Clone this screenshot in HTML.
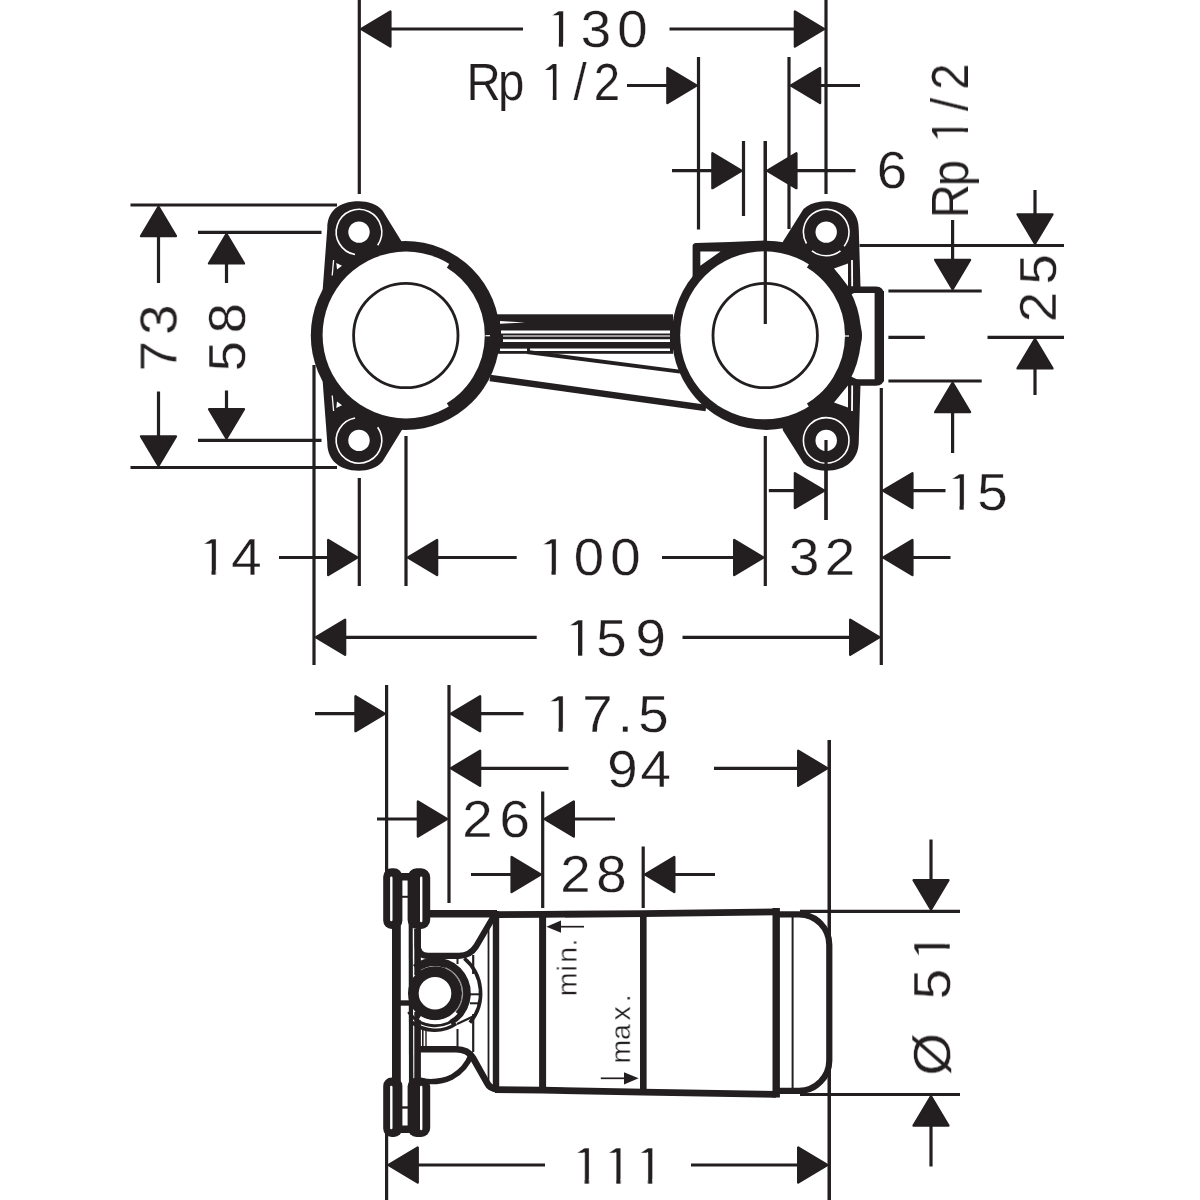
<!DOCTYPE html>
<html lang="en">
<head>
<meta charset="utf-8">
<title>Technical drawing</title>
<style>
html,body{margin:0;padding:0;background:#fff;}
body{width:1200px;height:1200px;overflow:hidden;}
svg{display:block;}
text{will-change:opacity;font-family:"Liberation Sans",sans-serif;fill:#231f20;font-kerning:none;}
</style>
</head>
<body>
<svg width="1200" height="1200" viewBox="0 0 1200 1200">
<rect width="1200" height="1200" fill="#fff"/>
<g id="dims-top">
<line x1="359.3" y1="0" x2="359.3" y2="194" stroke="#231f20" stroke-width="3.2" stroke-linecap="butt"/>
<line x1="826" y1="0" x2="826" y2="194" stroke="#231f20" stroke-width="3.2" stroke-linecap="butt"/>
<line x1="698.5" y1="57" x2="698.5" y2="229.5" stroke="#231f20" stroke-width="3.2" stroke-linecap="butt"/>
<line x1="789" y1="57" x2="789" y2="229" stroke="#231f20" stroke-width="3.2" stroke-linecap="butt"/>
<line x1="743.5" y1="141" x2="743.5" y2="216" stroke="#231f20" stroke-width="3.2" stroke-linecap="butt"/>
<line x1="765.3" y1="141" x2="765.3" y2="324" stroke="#231f20" stroke-width="3.2" stroke-linecap="butt"/>
<line x1="314" y1="365" x2="314" y2="665" stroke="#231f20" stroke-width="3.2" stroke-linecap="butt"/>
<line x1="359.3" y1="478" x2="359.3" y2="586" stroke="#231f20" stroke-width="3.2" stroke-linecap="butt"/>
<line x1="406" y1="436" x2="406" y2="586" stroke="#231f20" stroke-width="3.2" stroke-linecap="butt"/>
<line x1="765.3" y1="436" x2="765.3" y2="586" stroke="#231f20" stroke-width="3.2" stroke-linecap="butt"/>
<line x1="826" y1="440" x2="826" y2="520" stroke="#231f20" stroke-width="3.2" stroke-linecap="butt"/>
<line x1="881.3" y1="388" x2="881.3" y2="665" stroke="#231f20" stroke-width="3.2" stroke-linecap="butt"/>
<polygon points="361.22,29.00 390.40,11.56 390.40,46.44" fill="#231f20" stroke="#231f20" stroke-width="2.4" stroke-linejoin="round"/>
<line x1="390" y1="29" x2="523" y2="29" stroke="#231f20" stroke-width="3.2" stroke-linecap="butt"/>
<polygon points="824.08,29.00 794.90,11.56 794.90,46.44" fill="#231f20" stroke="#231f20" stroke-width="2.4" stroke-linejoin="round"/>
<line x1="669.5" y1="29" x2="795" y2="29" stroke="#231f20" stroke-width="3.2" stroke-linecap="butt"/>
<g transform="scale(1.05,1)">
<text x="518.80 553.08 587.95" y="46.5" font-size="52" stroke="#fff" stroke-width="0.3">130</text>
<path d="M521.40,47.5 H532.18 V15.30 H521.40 Z M536.23,47.5 H546.36 V41.82 H536.23 Z" fill="#fff"/>
</g>
<g transform="scale(0.93,1)">
<text x="501.72 535.48 563.84 581.26 616.64 638.54" y="100.5" font-size="51" stroke="#fff" stroke-width="0.2">Rp 1/2</text>
<path d="M583.81,101.5 H594.34 V69.90 H583.81 Z M598.40,101.5 H608.29 V95.91 H598.40 Z" fill="#fff"/>
</g>
<line x1="627" y1="85.5" x2="667" y2="85.5" stroke="#231f20" stroke-width="3.2" stroke-linecap="butt"/>
<polygon points="696.58,85.50 667.40,68.06 667.40,102.94" fill="#231f20" stroke="#231f20" stroke-width="2.4" stroke-linejoin="round"/>
<polygon points="790.92,85.50 820.10,68.06 820.10,102.94" fill="#231f20" stroke="#231f20" stroke-width="2.4" stroke-linejoin="round"/>
<line x1="820" y1="85.5" x2="860" y2="85.5" stroke="#231f20" stroke-width="3.2" stroke-linecap="butt"/>
<line x1="672" y1="170.7" x2="713" y2="170.7" stroke="#231f20" stroke-width="3.2" stroke-linecap="butt"/>
<polygon points="741.58,170.70 712.40,153.26 712.40,188.14" fill="#231f20" stroke="#231f20" stroke-width="2.4" stroke-linejoin="round"/>
<polygon points="767.22,170.70 796.40,153.26 796.40,188.14" fill="#231f20" stroke="#231f20" stroke-width="2.4" stroke-linejoin="round"/>
<line x1="796" y1="170.7" x2="855.5" y2="170.7" stroke="#231f20" stroke-width="3.2" stroke-linecap="butt"/>
<g transform="scale(1.05,1)">
<text x="834.96" y="188" font-size="52" stroke="#fff" stroke-width="0.3">6</text>
</g>
<g transform="translate(968,0) rotate(-90) scale(0.93,1)">
<text x="-234.63 -200.27 -171.91 -154.97 -119.38 -96.63" y="0" font-size="51" stroke="#fff" stroke-width="0.2">Rp 1/2</text>
<path d="M-152.42,1 H-141.90 V-30.60 H-152.42 Z M-137.83,1 H-127.94 V-4.59 H-137.83 Z" fill="#fff"/>
</g>
<line x1="859.5" y1="245.5" x2="1064" y2="245.5" stroke="#231f20" stroke-width="3.2" stroke-linecap="butt"/>
<line x1="888.4" y1="291" x2="981.7" y2="291" stroke="#231f20" stroke-width="3.2" stroke-linecap="butt"/>
<line x1="888.4" y1="337.3" x2="924.8" y2="337.3" stroke="#231f20" stroke-width="3.2" stroke-linecap="butt"/>
<line x1="987.5" y1="337.3" x2="1064" y2="337.3" stroke="#231f20" stroke-width="3.2" stroke-linecap="butt"/>
<line x1="888.4" y1="381" x2="981.7" y2="381" stroke="#231f20" stroke-width="3.2" stroke-linecap="butt"/>
<line x1="952.6" y1="220" x2="952.6" y2="261" stroke="#231f20" stroke-width="3.2" stroke-linecap="butt"/>
<polygon points="952.60,289.08 935.16,259.90 970.04,259.90" fill="#231f20" stroke="#231f20" stroke-width="2.4" stroke-linejoin="round"/>
<polygon points="952.60,382.92 935.16,412.10 970.04,412.10" fill="#231f20" stroke="#231f20" stroke-width="2.4" stroke-linejoin="round"/>
<line x1="952.6" y1="412" x2="952.6" y2="453" stroke="#231f20" stroke-width="3.2" stroke-linecap="butt"/>
<line x1="1035" y1="190" x2="1035" y2="215" stroke="#231f20" stroke-width="3.2" stroke-linecap="butt"/>
<polygon points="1035.00,243.58 1017.56,214.40 1052.44,214.40" fill="#231f20" stroke="#231f20" stroke-width="2.4" stroke-linejoin="round"/>
<polygon points="1035.00,339.22 1017.56,368.40 1052.44,368.40" fill="#231f20" stroke="#231f20" stroke-width="2.4" stroke-linejoin="round"/>
<line x1="1035" y1="368" x2="1035" y2="395" stroke="#231f20" stroke-width="3.2" stroke-linecap="butt"/>
<g transform="translate(1056,0) rotate(-90) scale(1.05,1)">
<text x="-306.81 -270.91" y="0" font-size="52" stroke="#fff" stroke-width="0.3">25</text>
</g>
<polygon points="883.22,490.60 912.40,473.16 912.40,508.04" fill="#231f20" stroke="#231f20" stroke-width="2.4" stroke-linejoin="round"/>
<line x1="912" y1="490.6" x2="945.5" y2="490.6" stroke="#231f20" stroke-width="3.2" stroke-linecap="butt"/>
<g transform="scale(1.05,1)">
<text x="900.42 930.81" y="510" font-size="52" stroke="#fff" stroke-width="0.3">15</text>
<path d="M903.02,511 H913.80 V478.80 H903.02 Z M917.85,511 H927.98 V505.32 H917.85 Z" fill="#fff"/>
</g>
<line x1="768.8" y1="490.6" x2="795" y2="490.6" stroke="#231f20" stroke-width="3.2" stroke-linecap="butt"/>
<polygon points="824.08,490.60 794.90,473.16 794.90,508.04" fill="#231f20" stroke="#231f20" stroke-width="2.4" stroke-linejoin="round"/>
<polygon points="883.22,557.50 912.40,540.06 912.40,574.94" fill="#231f20" stroke="#231f20" stroke-width="2.4" stroke-linejoin="round"/>
<line x1="912" y1="557.5" x2="950.5" y2="557.5" stroke="#231f20" stroke-width="3.2" stroke-linecap="butt"/>
<g transform="scale(1.05,1)">
<text x="751.41 785.57" y="575.5" font-size="52" stroke="#fff" stroke-width="0.3">32</text>
</g>
<line x1="662" y1="557.5" x2="734" y2="557.5" stroke="#231f20" stroke-width="3.2" stroke-linecap="butt"/>
<polygon points="763.38,557.50 734.20,540.06 734.20,574.94" fill="#231f20" stroke="#231f20" stroke-width="2.4" stroke-linejoin="round"/>
<polygon points="407.92,557.50 437.10,540.06 437.10,574.94" fill="#231f20" stroke="#231f20" stroke-width="2.4" stroke-linejoin="round"/>
<line x1="437" y1="557.5" x2="516.7" y2="557.5" stroke="#231f20" stroke-width="3.2" stroke-linecap="butt"/>
<g transform="scale(1.05,1)">
<text x="511.84 546.38 581.19" y="575.5" font-size="52" stroke="#fff" stroke-width="0.3">100</text>
<path d="M514.44,576.5 H525.22 V544.30 H514.44 Z M529.27,576.5 H539.40 V570.82 H529.27 Z" fill="#fff"/>
</g>
<line x1="279" y1="557.5" x2="328" y2="557.5" stroke="#231f20" stroke-width="3.2" stroke-linecap="butt"/>
<polygon points="357.38,557.50 328.20,540.06 328.20,574.94" fill="#231f20" stroke="#231f20" stroke-width="2.4" stroke-linejoin="round"/>
<g transform="scale(1.05,1)">
<text x="188.03 220.22" y="575" font-size="52" stroke="#fff" stroke-width="0.3">14</text>
<path d="M190.63,576 H201.41 V543.80 H190.63 Z M205.46,576 H215.59 V570.32 H205.46 Z" fill="#fff"/>
</g>
<polygon points="315.92,637.30 345.10,619.86 345.10,654.74" fill="#231f20" stroke="#231f20" stroke-width="2.4" stroke-linejoin="round"/>
<line x1="345" y1="637.3" x2="536.7" y2="637.3" stroke="#231f20" stroke-width="3.2" stroke-linecap="butt"/>
<line x1="682.5" y1="637.3" x2="849" y2="637.3" stroke="#231f20" stroke-width="3.2" stroke-linecap="butt"/>
<polygon points="879.38,637.30 850.20,619.86 850.20,654.74" fill="#231f20" stroke="#231f20" stroke-width="2.4" stroke-linejoin="round"/>
<g transform="scale(1.05,1)">
<text x="537.08 567.95 605.33" y="656.5" font-size="52" stroke="#fff" stroke-width="0.3">159</text>
<path d="M539.68,657.5 H550.46 V625.30 H539.68 Z M554.51,657.5 H564.64 V651.82 H554.51 Z" fill="#fff"/>
</g>
<line x1="130.5" y1="205" x2="337" y2="205" stroke="#231f20" stroke-width="3.2" stroke-linecap="butt"/>
<line x1="198" y1="232.3" x2="321.5" y2="232.3" stroke="#231f20" stroke-width="3.2" stroke-linecap="butt"/>
<line x1="198" y1="440.3" x2="321.5" y2="440.3" stroke="#231f20" stroke-width="3.2" stroke-linecap="butt"/>
<line x1="130.5" y1="467.5" x2="337" y2="467.5" stroke="#231f20" stroke-width="3.2" stroke-linecap="butt"/>
<polygon points="158.50,206.92 141.06,236.10 175.94,236.10" fill="#231f20" stroke="#231f20" stroke-width="2.4" stroke-linejoin="round"/>
<line x1="158.5" y1="236" x2="158.5" y2="283" stroke="#231f20" stroke-width="3.2" stroke-linecap="butt"/>
<line x1="158.5" y1="391.5" x2="158.5" y2="436" stroke="#231f20" stroke-width="3.2" stroke-linecap="butt"/>
<polygon points="158.50,465.58 141.06,436.40 175.94,436.40" fill="#231f20" stroke="#231f20" stroke-width="2.4" stroke-linejoin="round"/>
<polygon points="226.50,234.22 209.06,263.40 243.94,263.40" fill="#231f20" stroke="#231f20" stroke-width="2.4" stroke-linejoin="round"/>
<line x1="226.5" y1="263" x2="226.5" y2="283" stroke="#231f20" stroke-width="3.2" stroke-linecap="butt"/>
<line x1="226.5" y1="390.5" x2="226.5" y2="409" stroke="#231f20" stroke-width="3.2" stroke-linecap="butt"/>
<polygon points="226.50,438.38 209.06,409.20 243.94,409.20" fill="#231f20" stroke="#231f20" stroke-width="2.4" stroke-linejoin="round"/>
<g transform="translate(176.5,0) rotate(-90) scale(1.05,1)">
<text x="-353.72 -318.97" y="0" font-size="52" stroke="#fff" stroke-width="0.3">73</text>
</g>
<g transform="translate(245,0) rotate(-90) scale(1.05,1)">
<text x="-353.62 -317.42" y="0" font-size="52" stroke="#fff" stroke-width="0.3">58</text>
</g>
</g>
<g id="dims-side">
<line x1="386.6" y1="685" x2="386.6" y2="872" stroke="#231f20" stroke-width="3.2" stroke-linecap="butt"/>
<line x1="386.6" y1="1133" x2="386.6" y2="1200" stroke="#231f20" stroke-width="3.2" stroke-linecap="butt"/>
<line x1="449" y1="685" x2="449" y2="903" stroke="#231f20" stroke-width="3.2" stroke-linecap="butt"/>
<line x1="542.7" y1="791.5" x2="542.7" y2="908" stroke="#231f20" stroke-width="3.2" stroke-linecap="butt"/>
<line x1="643.2" y1="846.5" x2="643.2" y2="908" stroke="#231f20" stroke-width="3.2" stroke-linecap="butt"/>
<line x1="829.3" y1="740" x2="829.3" y2="1200" stroke="#231f20" stroke-width="3.2" stroke-linecap="butt"/>
<line x1="315" y1="713.7" x2="355" y2="713.7" stroke="#231f20" stroke-width="3.2" stroke-linecap="butt"/>
<polygon points="384.68,713.70 355.50,696.26 355.50,731.14" fill="#231f20" stroke="#231f20" stroke-width="2.4" stroke-linejoin="round"/>
<polygon points="450.92,713.70 480.10,696.26 480.10,731.14" fill="#231f20" stroke="#231f20" stroke-width="2.4" stroke-linejoin="round"/>
<line x1="480" y1="713.7" x2="523.5" y2="713.7" stroke="#231f20" stroke-width="3.2" stroke-linecap="butt"/>
<g transform="scale(1.05,1)">
<text x="518.51 554.47 588.42 607.81" y="732.5" font-size="52" stroke="#fff" stroke-width="0.3">17.5</text>
<path d="M521.11,733.5 H531.89 V701.30 H521.11 Z M535.94,733.5 H546.07 V727.82 H535.94 Z" fill="#fff"/>
</g>
<polygon points="450.92,768.30 480.10,750.86 480.10,785.74" fill="#231f20" stroke="#231f20" stroke-width="2.4" stroke-linejoin="round"/>
<line x1="480" y1="768.3" x2="568.5" y2="768.3" stroke="#231f20" stroke-width="3.2" stroke-linecap="butt"/>
<line x1="714" y1="768.3" x2="798.5" y2="768.3" stroke="#231f20" stroke-width="3.2" stroke-linecap="butt"/>
<polygon points="827.38,768.30 798.20,750.86 798.20,785.74" fill="#231f20" stroke="#231f20" stroke-width="2.4" stroke-linejoin="round"/>
<g transform="scale(1.05,1)">
<text x="578.28 609.99" y="787.5" font-size="52" stroke="#fff" stroke-width="0.3">94</text>
</g>
<line x1="377" y1="819" x2="418" y2="819" stroke="#231f20" stroke-width="3.2" stroke-linecap="butt"/>
<polygon points="447.08,819.00 417.90,801.56 417.90,836.44" fill="#231f20" stroke="#231f20" stroke-width="2.4" stroke-linejoin="round"/>
<polygon points="544.62,819.00 573.80,801.56 573.80,836.44" fill="#231f20" stroke="#231f20" stroke-width="2.4" stroke-linejoin="round"/>
<line x1="574" y1="819" x2="615" y2="819" stroke="#231f20" stroke-width="3.2" stroke-linecap="butt"/>
<g transform="scale(1.05,1)">
<text x="440.33 475.77" y="837.5" font-size="52" stroke="#fff" stroke-width="0.3">26</text>
</g>
<line x1="471" y1="874.5" x2="511" y2="874.5" stroke="#231f20" stroke-width="3.2" stroke-linecap="butt"/>
<polygon points="540.78,874.50 511.60,857.06 511.60,891.94" fill="#231f20" stroke="#231f20" stroke-width="2.4" stroke-linejoin="round"/>
<polygon points="645.12,874.50 674.30,857.06 674.30,891.94" fill="#231f20" stroke="#231f20" stroke-width="2.4" stroke-linejoin="round"/>
<line x1="675" y1="874.5" x2="715" y2="874.5" stroke="#231f20" stroke-width="3.2" stroke-linecap="butt"/>
<g transform="scale(1.05,1)">
<text x="533.67 567.82" y="892.5" font-size="52" stroke="#fff" stroke-width="0.3">28</text>
</g>
<polygon points="388.52,1165.00 417.70,1147.56 417.70,1182.44" fill="#231f20" stroke="#231f20" stroke-width="2.4" stroke-linejoin="round"/>
<line x1="418" y1="1165" x2="545" y2="1165" stroke="#231f20" stroke-width="3.2" stroke-linecap="butt"/>
<line x1="691" y1="1165" x2="798.5" y2="1165" stroke="#231f20" stroke-width="3.2" stroke-linecap="butt"/>
<polygon points="827.38,1165.00 798.20,1147.56 798.20,1182.44" fill="#231f20" stroke="#231f20" stroke-width="2.4" stroke-linejoin="round"/>
<g transform="scale(1.05,1)">
<text x="543.46 573.56 603.75" y="1184" font-size="52" stroke="#fff" stroke-width="0.3">111</text>
<path d="M546.06,1185 H556.84 V1152.80 H546.06 Z M560.89,1185 H571.02 V1179.32 H560.89 Z" fill="#fff"/>
<path d="M576.16,1185 H586.94 V1152.80 H576.16 Z M590.99,1185 H601.12 V1179.32 H590.99 Z" fill="#fff"/>
<path d="M606.35,1185 H617.13 V1152.80 H606.35 Z M621.18,1185 H631.31 V1179.32 H621.18 Z" fill="#fff"/>
</g>
<line x1="800" y1="911.3" x2="960" y2="911.3" stroke="#231f20" stroke-width="3.2" stroke-linecap="butt"/>
<line x1="800" y1="1094.5" x2="960" y2="1094.5" stroke="#231f20" stroke-width="3.2" stroke-linecap="butt"/>
<line x1="931" y1="839.5" x2="931" y2="880" stroke="#231f20" stroke-width="3.2" stroke-linecap="butt"/>
<polygon points="931.00,909.38 913.56,880.20 948.44,880.20" fill="#231f20" stroke="#231f20" stroke-width="2.4" stroke-linejoin="round"/>
<polygon points="931.00,1096.42 913.56,1125.60 948.44,1125.60" fill="#231f20" stroke="#231f20" stroke-width="2.4" stroke-linejoin="round"/>
<line x1="931" y1="1126" x2="931" y2="1166.5" stroke="#231f20" stroke-width="3.2" stroke-linecap="butt"/>
<g transform="translate(950,0) rotate(-90) scale(1.05,1)">
<text x="-1024.38 -983.93 -951.57 -916.73" y="0" font-size="52" stroke="#fff" stroke-width="0.3">Ø 51</text>
<path d="M-914.13,1 H-903.35 V-31.20 H-914.13 Z M-899.30,1 H-889.17 V-4.68 H-899.30 Z" fill="#fff"/>
</g>
</g>
<g id="part-top">
<rect x="497" y="314.3" width="176" height="39.5" fill="#231f20"/>
<line x1="501" y1="332" x2="670" y2="332" stroke="#fff" stroke-width="2.8" stroke-linecap="butt"/>
<line x1="503" y1="336" x2="670" y2="336" stroke="#c8c6c6" stroke-width="1.6" stroke-linecap="butt"/>
<line x1="503" y1="340.6" x2="670" y2="340.6" stroke="#fff" stroke-width="2.8" stroke-linecap="butt"/>
<line x1="500" y1="349.8" x2="527" y2="349.8" stroke="#fff" stroke-width="2.4" stroke-linecap="butt"/>
<line x1="530" y1="349.8" x2="670" y2="349.8" stroke="#fff" stroke-width="2.4" stroke-linecap="butt"/>
<path d="M500,321 L525,322.6 L500,323.8 Z" fill="#fff" stroke="none" stroke-width="0" stroke-linejoin="round" stroke-linecap="round"/>
<line x1="527" y1="352" x2="680" y2="371.6" stroke="#231f20" stroke-width="3.8" stroke-linecap="butt"/>
<line x1="490" y1="378" x2="706" y2="408" stroke="#231f20" stroke-width="6.4" stroke-linecap="butt"/>
<path d="M322.5,292 L327.3,228 C327.3,212 338,201.3 359,201.3 C368,201.3 377,204 382.5,210.5 L402.5,243 L405,335 Z" fill="#231f20" stroke="none" stroke-width="0" stroke-linejoin="round" stroke-linecap="round"/>
<path d="M322.5,379 L327.3,443 C327.3,459 338,470.7 359,470.7 C368,470.7 377,468 382.5,461.5 L402.5,429 L405,336 Z" fill="#231f20" stroke="none" stroke-width="0" stroke-linejoin="round" stroke-linecap="round"/>
<circle cx="405.3" cy="335.5" r="94.5" fill="#231f20" stroke="none" stroke-width="0"/>
<circle cx="406" cy="335.0" r="83.4" fill="#fff" stroke="none" stroke-width="0"/>
<path d="M449.45,263.45 A84.5,84.5 0 0 1 449.45,407.55" fill="none" stroke="#231f20" stroke-width="10" stroke-linecap="butt"/>
<line x1="485.5" y1="335.7" x2="490" y2="335.7" stroke="#fff" stroke-width="1.2" stroke-linecap="butt"/>
<circle cx="405.8" cy="335.5" r="52.2" fill="none" stroke="#231f20" stroke-width="2.8"/>
<circle cx="359" cy="232.1" r="10.7" fill="#fff" stroke="none" stroke-width="0"/>
<path d="M355.04,254.55 A22.8,22.8 0 1 1 377.68,245.18" fill="none" stroke="#fff" stroke-width="1.6" stroke-linecap="butt"/>
<circle cx="359" cy="440.4" r="10.7" fill="#fff" stroke="none" stroke-width="0"/>
<path d="M377.68,427.32 A22.8,22.8 0 1 1 355.04,417.95" fill="none" stroke="#fff" stroke-width="1.6" stroke-linecap="butt"/>
<path d="M336.3,263 L342,265.8 L337,269.5 Z" fill="#fff" stroke="none" stroke-width="0" stroke-linejoin="round" stroke-linecap="round"/>
<line x1="333.6" y1="260" x2="332.2" y2="275.5" stroke="#fff" stroke-width="1.3" stroke-linecap="butt"/>
<path d="M336.3,408 L342,405.2 L337,401.5 Z" fill="#fff" stroke="none" stroke-width="0" stroke-linejoin="round" stroke-linecap="round"/>
<line x1="333.6" y1="411" x2="332.2" y2="395.5" stroke="#fff" stroke-width="1.3" stroke-linecap="butt"/>
<path d="M692.6,246 Q692.6,243.4 696,243 L730,242 L765,240.6 L765,262 L700,290 L692.6,290 Z" fill="#231f20" stroke="none" stroke-width="0" stroke-linejoin="round" stroke-linecap="round"/>
<path d="M848,289.7 L876,289.7 Q880.5,289.7 880.5,294 L880.5,378.2 Q880.5,382.5 876,382.5 L848,382.5" fill="none" stroke="#231f20" stroke-width="6.4" stroke-linejoin="round" stroke-linecap="butt"/>
<line x1="879.3" y1="291" x2="879.3" y2="381.5" stroke="#231f20" stroke-width="9.4" stroke-linecap="butt"/>
<path d="M860.6,290 L858.8,230 C858.8,212 847,201.3 826,201.3 C817,201.3 808.5,204 803.5,209 L783,241.5 L765,335 Z" fill="#231f20" stroke="none" stroke-width="0" stroke-linejoin="round" stroke-linecap="round"/>
<path d="M860.6,381 L858.8,441 C858.8,459 847,470.7 826,470.7 C817,470.7 808.5,468 803.5,463 L783,430.5 L765,336 Z" fill="#231f20" stroke="none" stroke-width="0" stroke-linejoin="round" stroke-linecap="round"/>
<path d="M834,268.6 L848,263.6 L848,286.3 Z" fill="#fff" stroke="none" stroke-width="0" stroke-linejoin="round" stroke-linecap="round"/>
<line x1="852" y1="260" x2="852.2" y2="286.3" stroke="#fff" stroke-width="1.8" stroke-linecap="butt"/>
<path d="M834,402.4 L848,407.4 L848,385.5 Z" fill="#fff" stroke="none" stroke-width="0" stroke-linejoin="round" stroke-linecap="round"/>
<line x1="852" y1="411" x2="852.2" y2="385.5" stroke="#fff" stroke-width="1.8" stroke-linecap="butt"/>
<circle cx="766.5" cy="335.3" r="94.6" fill="#231f20" stroke="none" stroke-width="0"/>
<path d="M845,300 Q862.5,322 862,335.5 Q862.5,349 845,371 Z" fill="#231f20" stroke="none" stroke-width="0" stroke-linejoin="round" stroke-linecap="round"/>
<path d="M700.3,251.6 L720.5,251.6 L700.3,265.8 Z" fill="#fff" stroke="none" stroke-width="0" stroke-linejoin="round" stroke-linecap="round"/>
<circle cx="764.2" cy="335.3" r="84" fill="#fff" stroke="none" stroke-width="0"/>
<path d="M809.56,263.28 A84.7,84.7 0 0 1 809.56,407.72" fill="none" stroke="#231f20" stroke-width="10" stroke-linecap="butt"/>
<line x1="844.3" y1="336" x2="849" y2="336" stroke="#fff" stroke-width="1.2" stroke-linecap="butt"/>
<circle cx="765.2" cy="335.5" r="52.2" fill="none" stroke="#231f20" stroke-width="2.8"/>
<circle cx="826.2" cy="232.1" r="10.7" fill="#fff" stroke="none" stroke-width="0"/>
<path d="M806.45,243.50 A22.8,22.8 0 1 1 844.17,246.14" fill="none" stroke="#fff" stroke-width="1.6" stroke-linecap="butt"/>
<path d="M840.48,250.78 A23.2,23.2 0 0 1 811.92,250.78" fill="none" stroke="#fff" stroke-width="1.6" stroke-linecap="butt"/>
<circle cx="826.2" cy="440.4" r="10.7" fill="#fff" stroke="none" stroke-width="0"/>
<circle cx="826.2" cy="440.4" r="22.8" fill="none" stroke="#fff" stroke-width="1.6"/>
<line x1="765.3" y1="141" x2="765.3" y2="324" stroke="#231f20" stroke-width="3.2" stroke-linecap="butt"/>
<line x1="826" y1="440" x2="826" y2="520" stroke="#231f20" stroke-width="3.2" stroke-linecap="butt"/>
</g>
<g id="part-side">
<rect x="392" y="900" width="8.8" height="200" fill="#231f20"/>
<path d="M408.6,897 L412.6,897 L413.4,1100 L409,1100 Z" fill="#231f20" stroke="none" stroke-width="0" stroke-linejoin="round" stroke-linecap="round"/>
<line x1="400" y1="896.8" x2="410" y2="896.8" stroke="#231f20" stroke-width="2" stroke-linecap="butt"/>
<line x1="400" y1="1107.5" x2="410" y2="1107.5" stroke="#231f20" stroke-width="2.4" stroke-linecap="butt"/>
<line x1="400" y1="1003" x2="410" y2="1003" stroke="#231f20" stroke-width="5.4" stroke-linecap="butt"/>
<rect x="383.2" y="868.3" width="19.2" height="60.700000000000045" rx="8.5" ry="8.5" fill="#231f20" stroke="none" stroke-width="0"/>
<rect x="407.6" y="868.3" width="22.6" height="60.700000000000045" rx="9" ry="9" fill="#231f20" stroke="none" stroke-width="0"/>
<line x1="391.3" y1="877.8" x2="391.3" y2="920" stroke="#fff" stroke-width="2.4" stroke-linecap="round"/>
<line x1="421.2" y1="877.8" x2="421.2" y2="921" stroke="#fff" stroke-width="2.4" stroke-linecap="round"/>
<rect x="383.2" y="1077.5" width="19.2" height="59.5" rx="8.5" ry="8.5" fill="#231f20" stroke="none" stroke-width="0"/>
<rect x="407.6" y="1077.5" width="22.6" height="59.5" rx="9" ry="9" fill="#231f20" stroke="none" stroke-width="0"/>
<line x1="391.3" y1="1087.0" x2="391.3" y2="1128" stroke="#fff" stroke-width="2.4" stroke-linecap="round"/>
<line x1="421.2" y1="1087.0" x2="421.2" y2="1129" stroke="#fff" stroke-width="2.4" stroke-linecap="round"/>
<rect x="398" y="873" width="14" height="7.5" fill="#231f20"/>
<rect x="398" y="1125.5" width="14" height="7.5" fill="#231f20"/>
<path d="M417.6,929 L417.6,945 Q417.6,955.8 428,955.8 L459,955.8 Q470,955.8 476,946.5 L496,912.5" fill="none" stroke="#231f20" stroke-width="6.2" stroke-linejoin="round" stroke-linecap="butt"/>
<line x1="428" y1="913.8" x2="497" y2="913.8" stroke="#231f20" stroke-width="7.4" stroke-linecap="butt"/>
<path d="M417.6,1078 L417.6,1012" fill="none" stroke="#231f20" stroke-width="6.6" stroke-linejoin="round" stroke-linecap="butt"/>
<path d="M417.6,929 L417.6,975" fill="none" stroke="#231f20" stroke-width="6.6" stroke-linejoin="round" stroke-linecap="butt"/>
<path d="M418,1049.3 L456,1049.3 Q468,1049.3 473,1058 L486.5,1082 Q490,1089.3 498,1089.3" fill="none" stroke="#231f20" stroke-width="6.6" stroke-linejoin="round" stroke-linecap="butt"/>
<path d="M418,1080.5 Q438,1084 452,1077 Q466,1069 471,1055" fill="none" stroke="#231f20" stroke-width="5.4" stroke-linejoin="round" stroke-linecap="butt"/>
<line x1="457.5" y1="958" x2="457.5" y2="964" stroke="#231f20" stroke-width="2" stroke-linecap="butt"/>
<line x1="473.2" y1="955" x2="473.2" y2="974" stroke="#231f20" stroke-width="2.2" stroke-linecap="butt"/>
<line x1="473.2" y1="1014" x2="473.2" y2="1052" stroke="#231f20" stroke-width="2.2" stroke-linecap="butt"/>
<line x1="422.8" y1="1029" x2="422.8" y2="1047" stroke="#231f20" stroke-width="1.6" stroke-linecap="butt"/>
<line x1="426" y1="1029" x2="426" y2="1047" stroke="#231f20" stroke-width="1.4" stroke-linecap="butt"/>
<line x1="457.5" y1="1029" x2="457.5" y2="1047" stroke="#231f20" stroke-width="2" stroke-linecap="butt"/>
<path d="M464.31,958.37 A45.6,45.6 0 0 1 469.93,1022.61" fill="none" stroke="#231f20" stroke-width="3.6" stroke-linecap="butt"/>
<line x1="470" y1="994.3" x2="480" y2="994.3" stroke="#231f20" stroke-width="2" stroke-linecap="butt"/>
<line x1="470" y1="1003.3" x2="480" y2="1003.3" stroke="#231f20" stroke-width="2" stroke-linecap="butt"/>
<line x1="457" y1="1024" x2="473" y2="1016.5" stroke="#231f20" stroke-width="2.2" stroke-linecap="butt"/>
<path d="M415.61,968.48 A31.5,31.5 0 1 1 449.79,1021.11" fill="none" stroke="#231f20" stroke-width="8.6" stroke-linecap="butt"/>
<path d="M459.82,1014.13 A32.4,32.4 0 0 1 408.46,1011.88" fill="none" stroke="#231f20" stroke-width="3" stroke-linecap="butt"/>
<path d="M456.22,1023.61 A37,37 0 0 1 412.22,1022.46" fill="none" stroke="#231f20" stroke-width="3.6" stroke-linecap="butt"/>
<circle cx="435" cy="993.3" r="27" fill="#231f20" stroke="none" stroke-width="0"/>
<path d="M445.34,967.71 A27.6,27.6 0 0 1 449.63,1016.71" fill="none" stroke="#9a9898" stroke-width="1.1" stroke-linecap="butt"/>
<path d="M456.40,1012.57 A28.8,28.8 0 0 1 419.74,1017.72" fill="none" stroke="#fff" stroke-width="3.4" stroke-linecap="butt"/>
<circle cx="435" cy="993.3" r="16.3" fill="#fff" stroke="none" stroke-width="0"/>
<line x1="488.5" y1="921" x2="488.5" y2="1085" stroke="#231f20" stroke-width="1.8" stroke-linecap="butt"/>
<line x1="496" y1="911" x2="496" y2="1091" stroke="#231f20" stroke-width="6.4" stroke-linecap="butt"/>
<path d="M495,914.6 L542.5,914.4 L643,913.6 L776,911.8" fill="none" stroke="#231f20" stroke-width="6.8" stroke-linejoin="miter" stroke-linecap="butt"/>
<path d="M495,1089.6 L542.5,1090.2 L643,1092.2 L776,1094.4" fill="none" stroke="#231f20" stroke-width="6.8" stroke-linejoin="miter" stroke-linecap="butt"/>
<line x1="542.6" y1="912" x2="542.6" y2="1092" stroke="#231f20" stroke-width="7" stroke-linecap="butt"/>
<line x1="643.3" y1="911" x2="643.3" y2="1094" stroke="#231f20" stroke-width="6.6" stroke-linecap="butt"/>
<line x1="776.2" y1="908" x2="776.2" y2="1097.5" stroke="#231f20" stroke-width="7.4" stroke-linecap="butt"/>
<line x1="792.6" y1="917" x2="792.6" y2="1088" stroke="#231f20" stroke-width="2" stroke-linecap="butt"/>
<path d="M779,914.4 L799,914.4 A30.5,30.5 0 0 1 829.3,945 L829.3,1060 A30.5,30.5 0 0 1 799,1090.8 L779,1090.8" fill="none" stroke="#231f20" stroke-width="6.2" stroke-linejoin="round" stroke-linecap="butt"/>
<g transform="translate(576.6,0) rotate(-90) scale(1.0,1)">
<text x="-996.38 -971.63 -962.76 -946.42" y="0" font-size="28.5" stroke="#fff" stroke-width="0.3">min.</text>
</g>
<g transform="translate(630.2,0) rotate(-90) scale(1.0,1)">
<text x="-1063.48 -1040.05 -1020.55 -1002.27" y="0" font-size="28.5" stroke="#fff" stroke-width="0.3">max.</text>
</g>
<polygon points="546.4,926.7 561,920.6 561,932.8" fill="#231f20"/>
<line x1="560" y1="926.7" x2="584" y2="926.7" stroke="#231f20" stroke-width="1.7" stroke-linecap="butt"/>
<polygon points="638.6,1078.3 624,1072.2 624,1084.4" fill="#231f20"/>
<line x1="600.8" y1="1078.3" x2="625" y2="1078.3" stroke="#231f20" stroke-width="1.7" stroke-linecap="butt"/>
</g>
<line x1="829.3" y1="740" x2="829.3" y2="1200" stroke="#231f20" stroke-width="3.2" stroke-linecap="butt"/>
</svg>
</body>
</html>
